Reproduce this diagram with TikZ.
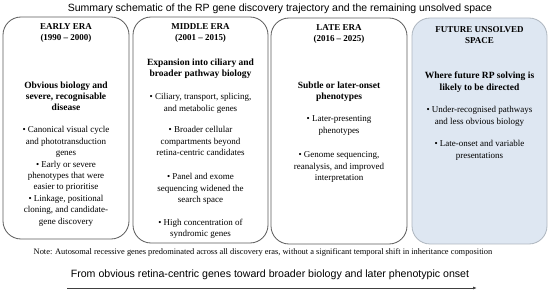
\documentclass[tikz,border=0pt]{standalone}
\usepackage{fontspec}
\setmainfont{Liberation Serif}
\newfontfamily\headfont{Liberation Sans}
\usetikzlibrary{arrows.meta, positioning}

\definecolor{framegray}{HTML}{5A5A5A}
\definecolor{futurefill}{HTML}{DEE7F2}
\definecolor{futuredraw}{HTML}{AEB6BF}

\begin{document}
\begin{tikzpicture}[
    x=1pt, y=1pt,
    >={Latex[length=4pt,width=3pt]},
    era/.style={draw=framegray, line width=0.8pt, rounded corners=18pt,
                inner sep=0pt, outer sep=0pt},
    future/.style={era, draw=futuredraw, fill=futurefill},
    erahead/.style={font=\bfseries\fontsize{9}{11}\selectfont, align=center,
                    inner sep=0pt},
    lead/.style={font=\bfseries\fontsize{9.5}{11.2}\selectfont, align=center,
                 inner sep=0pt},
    item/.style={font=\fontsize{9}{11.4}\selectfont, align=center, inner sep=0pt},
]
\useasboundingbox (0,0) rectangle (550,295);

\node[font=\headfont\fontsize{10.5}{12}\selectfont] (title) at (280,286)
    {Summary schematic of the RP gene discovery trajectory and the remaining unsolved space};

% the four era panels
\node[era, minimum width=126pt, minimum height=222pt]  (early)  at (66,167)    {};
\node[era, minimum width=135pt, minimum height=226pt]  (middle) at (200.5,165) {};
\node[era, minimum width=136pt, minimum height=226pt]  (late)   at (339,164)   {};
\node[future, minimum width=135pt, minimum height=226pt] (future) at (479.5,164) {};

% early era
\node[erahead, below=6.5pt of early.north]  (earlyhead) {EARLY ERA\\(1990 -- 2000)};
\node[lead, below=64.5pt of early.north]    (earlylead) {Obvious biology and\\severe, recognisable\\disease};
\node[item, below=109.5pt of early.north]   (earlyA) {\textbullet\ Canonical visual cycle\\and phototransduction\\genes};
\node[item, below=143.7pt of early.north]   (earlyB) {\textbullet\ Early or severe\\phenotypes that were\\easier to prioritise};
\node[item, below=177.9pt of early.north]   (earlyC) {\textbullet\ Linkage, positional\\cloning, and candidate-\\gene discovery};

% middle era
\node[erahead, below=6.5pt of middle.north] (middlehead) {MIDDLE ERA\\(2001 -- 2015)};
\node[lead, below=41.5pt of middle.north]   (middlelead) {Expansion into ciliary and\\broader pathway biology};
\node[item, below=76.5pt of middle.north]   (middleA) {\textbullet\ Ciliary, transport, splicing,\\and metabolic genes};
\node[item, below=109.5pt of middle.north]  (middleB) {\textbullet\ Broader cellular\\compartments beyond\\retina-centric candidates};
\node[item, below=156.5pt of middle.north]  (middleC) {\textbullet\ Panel and exome\\sequencing widened the\\search space};
\node[item, below=201.5pt of middle.north]  (middleD) {\textbullet\ High concentration of\\syndromic genes};

% late era
\node[erahead, below=6.5pt of late.north]   (latehead) {LATE ERA\\(2016 -- 2025)};
\node[lead, below=63.5pt of late.north]     (latelead) {Subtle or later-onset\\phenotypes};
\node[item, below=97.5pt of late.north]     (lateA) {\textbullet\ Later-presenting\\phenotypes};
\node[item, below=133.5pt of late.north]    (lateB) {\textbullet\ Genome sequencing,\\reanalysis, and improved\\interpretation};

% future space
\node[erahead, below=8pt of future.north]   (futurehead) {FUTURE UNSOLVED\\SPACE};
\node[lead, below=54pt of future.north]     (futurelead) {Where future RP solving is\\likely to be directed};
\node[item, below=88.5pt of future.north]   (futureA) {\textbullet\ Under-recognised pathways\\and less obvious biology};
\node[item, below=122.5pt of future.north]  (futureB) {\textbullet\ Late-onset and variable\\presentations};

\node[font=\fontsize{8.4}{9}\selectfont] (note) at (263,43)
    {Note: Autosomal recessive genes predominated across all discovery eras, without a significant temporal shift in inheritance composition};

\node[font=\headfont\fontsize{10.6}{12}\selectfont] (trend) at (270,20)
    {From obvious retina-centric genes toward broader biology and later phenotypic onset};

\coordinate (tstart) at (67,7);
\coordinate (tend)   at (477,7);
\draw[->, draw=black!75, line width=0.8pt] (tstart) -- (tend);

\end{tikzpicture}
\end{document}
